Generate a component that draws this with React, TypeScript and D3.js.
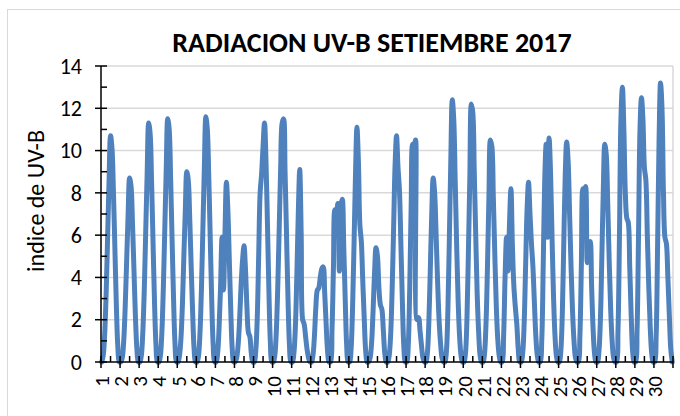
import React, { useRef, useEffect } from 'react';
import * as d3 from 'd3';

// dias del mes (una etiqueta por dia)
const dayLabels = ['1', '2', '3', '4', '5', '6', '7', '8', '9', '10', '11', '12', '13', '14', '15',
    '16', '17', '18', '19', '20', '21', '22', '23', '24', '25', '26', '27', '28', '29', '30'];

const yTicks = [0, 2, 4, 6, 8, 10, 12, 14];

// indice UV-B horario, 6h a 18h, por dia
const uvByDay = [
    [0, 0.3, 1.3, 3.2, 5.9, 8.6, 10.7, 10.1, 8.0, 5.3, 2.6, 0.7, 0],
    [0, 0.2, 1.0, 2.6, 4.8, 7.0, 8.7, 8.3, 6.5, 4.3, 2.1, 0.6, 0],
    [0, 0.3, 1.4, 3.4, 6.2, 9.0, 11.3, 10.8, 8.5, 5.6, 2.8, 0.8, 0],
    [0, 0.3, 1.4, 3.5, 6.3, 9.2, 11.5, 11.0, 8.6, 5.7, 2.9, 0.8, 0],
    [0, 0.3, 1.1, 2.7, 5.0, 7.2, 9.0, 8.6, 6.8, 4.5, 2.3, 0.6, 0],
    [0, 0.3, 1.4, 3.5, 6.4, 9.3, 11.6, 11.0, 8.7, 5.8, 2.9, 0.8, 0],
    [0, 0.4, 1.6, 3.5, 5.9, 3.4, 6.0, 8.5, 7.2, 4.8, 2.4, 0.6, 0],
    [0, 0.2, 0.8, 2.0, 3.6, 4.8, 5.5, 4.4, 2.6, 1.4, 1.2, 0.4, 0],
    [0, 0.5, 2.0, 5.0, 8.0, 8.9, 10.2, 11.3, 9.5, 6.5, 3.3, 0.9, 0],
    [0, 0.3, 1.4, 3.5, 6.3, 9.2, 11.3, 11.5, 9.0, 6.0, 3.0, 0.8, 0],
    [0, 0.4, 1.6, 4.0, 7.0, 9.1, 6.0, 2.0, 1.8, 1.2, 0.6, 0.2, 0],
    [0, 0.3, 1.2, 2.6, 3.4, 3.5, 4.0, 4.4, 4.5, 3.3, 1.8, 0.5, 0],
    [0, 1.5, 4.5, 7.2, 7.0, 7.5, 4.3, 7.4, 7.7, 5.5, 3.0, 0.8, 0],
    [0, 0.6, 2.5, 5.5, 8.8, 11.1, 9.5, 6.5, 5.7, 3.8, 2.0, 0.5, 0],
    [0, 0.2, 0.9, 2.4, 4.2, 5.4, 5.0, 3.5, 2.7, 2.5, 1.5, 0.4, 0],
    [0, 0.3, 1.3, 3.4, 6.3, 9.3, 10.7, 9.2, 8.1, 5.5, 2.8, 0.7, 0],
    [0, 0.8, 3.5, 7.5, 10.3, 10.1, 10.5, 2.0, 2.1, 1.5, 0.8, 0.2, 0],
    [0, 0.4, 1.8, 4.3, 7.0, 8.7, 8.0, 6.0, 3.8, 2.0, 0.9, 0.2, 0],
    [0, 0.5, 2.4, 5.8, 9.5, 12.4, 11.5, 8.6, 5.5, 2.9, 1.2, 0.3, 0],
    [0, 0.4, 2.0, 5.2, 8.8, 12.2, 11.8, 9.0, 6.0, 3.2, 1.4, 0.3, 0],
    [0, 0.4, 1.8, 4.5, 7.8, 10.5, 10.2, 7.8, 5.1, 2.7, 1.1, 0.3, 0],
    [0, 1.2, 4.0, 5.9, 4.3, 6.5, 8.2, 5.5, 3.6, 2.6, 1.8, 0.6, 0],
    [0, 0.4, 1.8, 4.5, 7.2, 8.5, 7.0, 5.6, 4.5, 2.8, 1.2, 0.3, 0],
    [0, 1.0, 4.5, 8.5, 10.3, 5.9, 10.6, 9.0, 6.0, 3.2, 1.3, 0.3, 0],
    [0, 0.5, 2.2, 5.5, 8.8, 10.4, 9.5, 7.0, 4.5, 2.4, 1.0, 0.2, 0],
    [0, 1.2, 4.5, 8.2, 7.8, 8.3, 4.7, 5.5, 5.7, 3.6, 1.6, 0.4, 0],
    [0, 0.5, 2.0, 5.0, 8.2, 10.3, 9.8, 7.5, 4.8, 2.5, 1.0, 0.2, 0],
    [0, 1.5, 6.0, 11.5, 13.0, 11.0, 8.0, 6.8, 6.6, 4.5, 2.2, 0.5, 0],
    [0, 1.5, 6.0, 11.0, 12.5, 11.5, 9.2, 8.6, 6.0, 3.5, 1.6, 0.4, 0],
    [0, 1.2, 5.5, 10.5, 13.2, 12.0, 8.0, 5.9, 5.6, 4.0, 2.2, 0.6, 0],
];

const FONT = 'Carlito, Calibri, Lato, sans-serif';

const App = () => {
    const ref = useRef(null);

    useEffect(() => {
        const svg = d3.select(ref.current);
        svg.selectAll('*').remove();

        const perDay = uvByDay[0].length;
        const values = uvByDay.flat();
        const n = values.length;
        const left = 101, right = 673, top = 66, bottom = 362;

        const x = d3.scaleLinear().domain([0, n]).range([left, right]);
        const y = d3.scaleLinear().domain([0, 14]).range([bottom, top]);

        // marco del grafico
        svg.append('rect')
            .attr('x', 7.5).attr('y', 9.5)
            .attr('width', 700).attr('height', 420)
            .attr('fill', 'none').attr('stroke', '#d9d9d9').attr('stroke-width', 1);

        // lineas de division
        svg.append('g').selectAll('line')
            .data(yTicks.filter(t => t > 0))
            .join('line')
            .attr('x1', left).attr('x2', right)
            .attr('y1', d => y(d)).attr('y2', d => y(d))
            .attr('stroke', '#d9d9d9').attr('stroke-width', 1.5);

        svg.append('line')
            .attr('x1', right).attr('x2', right).attr('y1', top).attr('y2', bottom)
            .attr('stroke', '#d9d9d9').attr('stroke-width', 1.5);

        // serie
        const line = d3.line<number>()
            .x((d, i) => x(i + 0.5))
            .y(d => y(d))
            .curve(d3.curveCatmullRom.alpha(0.5));

        svg.append('path')
            .datum(values)
            .attr('fill', 'none')
            .attr('stroke', '#4f81bd')
            .attr('stroke-width', 5)
            .attr('stroke-linejoin', 'round')
            .attr('stroke-linecap', 'round')
            .attr('d', line);

        // eje Y
        const yAxis = svg.append('g');
        yAxis.append('line')
            .attr('x1', left).attr('x2', left).attr('y1', top).attr('y2', bottom)
            .attr('stroke', '#000').attr('stroke-width', 1.5);
        yAxis.selectAll('.major')
            .data(yTicks)
            .join('line')
            .attr('x1', left - 6).attr('x2', left + 6)
            .attr('y1', d => y(d)).attr('y2', d => y(d))
            .attr('stroke', '#000').attr('stroke-width', 1.5);
        yAxis.selectAll('.minor')
            .data(yTicks.slice(1).map(t => t - 1))
            .join('line')
            .attr('x1', left).attr('x2', left + 6)
            .attr('y1', d => y(d)).attr('y2', d => y(d))
            .attr('stroke', '#000').attr('stroke-width', 1.5);
        yAxis.selectAll('text')
            .data(yTicks)
            .join('text')
            .attr('x', 82)
            .attr('y', d => y(d))
            .attr('dy', '0.35em')
            .attr('text-anchor', 'end')
            .attr('font-family', FONT)
            .attr('font-size', 22)
            .text(d => d);

        // eje X
        const xAxis = svg.append('g');
        xAxis.append('line')
            .attr('x1', left).attr('x2', right).attr('y1', bottom).attr('y2', bottom)
            .attr('stroke', '#000').attr('stroke-width', 1.5);
        xAxis.selectAll('.major')
            .data(d3.range(dayLabels.length + 1))
            .join('line')
            .attr('x1', d => x(d * perDay)).attr('x2', d => x(d * perDay))
            .attr('y1', bottom - 6).attr('y2', bottom + 6)
            .attr('stroke', '#000').attr('stroke-width', 1.5);
        xAxis.selectAll('.minor')
            .data(d3.range(dayLabels.length))
            .join('line')
            .attr('x1', d => x(d * perDay + perDay / 2)).attr('x2', d => x(d * perDay + perDay / 2))
            .attr('y1', bottom - 6).attr('y2', bottom)
            .attr('stroke', '#000').attr('stroke-width', 1.5);
        xAxis.selectAll('text')
            .data(dayLabels)
            .join('text')
            .attr('transform', (d, i) => `translate(${x(i * perDay + 0.5)},376) rotate(-90)`)
            .attr('dy', '0.36em')
            .attr('text-anchor', 'end')
            .attr('font-family', FONT)
            .attr('font-size', 21)
            .text(d => d);

        // titulos
        svg.append('text')
            .attr('x', 372).attr('y', 52)
            .attr('text-anchor', 'middle')
            .attr('font-family', FONT)
            .attr('font-weight', 'bold')
            .attr('font-size', 28)
            .text('RADIACION UV-B SETIEMBRE 2017');

        svg.append('text')
            .attr('transform', 'translate(36,201) rotate(-90)')
            .attr('dy', '0.35em')
            .attr('text-anchor', 'middle')
            .attr('font-family', FONT)
            .attr('font-size', 24)
            .text('indice de UV-B');
    }, []);

    return <svg ref={ref} width={680} height={416}
        style={{ position: 'absolute', left: 0, top: 0, background: '#fff' }}></svg>;
};

export default App;
